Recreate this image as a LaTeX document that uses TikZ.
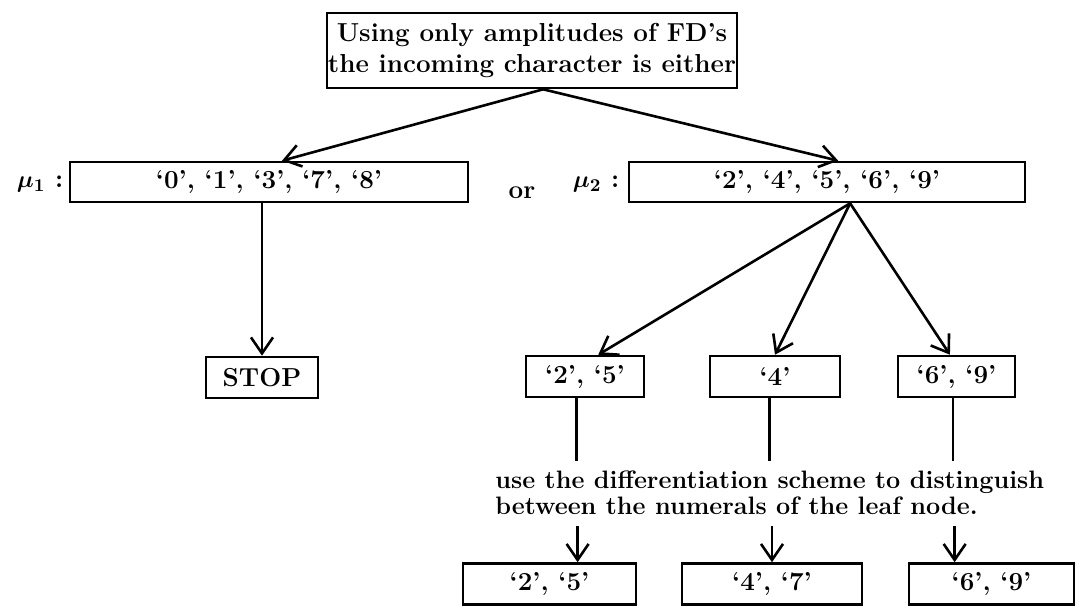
\documentclass[tikz,border=0pt]{standalone}
\usetikzlibrary{arrows.meta, calc}

\begin{document}
\begin{tikzpicture}[x=0.5pt, y=-0.5pt,
  box/.style={draw, line width=1.3pt, inner sep=0pt, align=center, font=\bfseries\fontsize{13}{15.5}\selectfont},
  label/.style={font=\bfseries\boldmath\fontsize{13}{15.5}\selectfont, inner sep=0pt},
  arrow/.style={-{Straight Barb[length=8pt, width=11pt, line width=1.3pt]}, line width=1.3pt},
  link/.style={line width=1.3pt}
]
  \useasboundingbox (0,0) rectangle (1079,606);

  % root and first split
  \node[box, minimum width=205pt, minimum height=37.5pt] (top) at (532,50.5)
    {Using only amplitudes of FD's\\the incoming character is either};
  \node[box, minimum width=199pt, minimum height=20pt] (mu1box) at (269,182)
    {`0', `1', `3', `7', `8'};
  \node[box, minimum width=198pt, minimum height=20pt] (mu2box) at (827,182)
    {`2', `4', `5', `6', `9'};
  \node[label, anchor=east] (mu1) at ($(mu1box.west)+(-5,2)$) {$\mu_1$ :};
  \node[label, anchor=east] (mu2) at ($(mu2box.west)+(-8,2)$) {$\mu_2$ :};
  \node[label] (or) at (522,193) {or};

  \coordinate (fork) at ($(top.south)!0.054!(top.south east)$);
  \draw[arrow] (fork) -- ($(mu1box.north)!0.065!(mu1box.north east)$);
  \draw[arrow] (fork) -- ($(mu2box.north)!0.056!(mu2box.north east)$);

  % left branch
  \node[box, minimum width=56pt, minimum height=20.5pt] (stop) at (262,377.5) {STOP};
  \draw[arrow] (mu1box.south -| stop.north) -- (stop.north);

  % right branch
  \node[box, minimum width=59pt, minimum height=20.5pt] (b25) at (585,376.5) {`2', `5'};
  \node[box, minimum width=65pt, minimum height=20.5pt] (b4) at (775,376.5) {`4'};
  \node[box, minimum width=58.5pt, minimum height=20.5pt] (b69) at (956.5,376.5) {`6', `9'};

  \coordinate (split) at ($(mu2box.south)!0.116!(mu2box.south east)$);
  \draw[arrow] (split) -- ($(b25.north)!0.22!(b25.north east)$);
  \draw[arrow] (split) -- (b4.north);
  \draw[arrow] (split) -- ($(b69.north)!0.11!(b69.north west)$);

  \draw[link] ($(b25.south)!0.14!(b25.south west)$) -- ++(0,63);
  \draw[link] ($(b4.south)!0.08!(b4.south west)$) -- ++(0,63);
  \draw[link] ($(b69.south)!0.06!(b69.south west)$) -- ++(0,63);

  \node[anchor=west, align=left, inner sep=0pt, font=\bfseries\fontsize{12.6}{12.8}\selectfont] (note) at (495,493)
    {use the differentiation scheme to distinguish\\between the numerals of the leaf node.};

  % leaf nodes
  \node[box, minimum width=86.5pt, minimum height=20.5pt] (l25) at (549.5,584) {`2', `5'};
  \node[box, minimum width=90pt, minimum height=20.5pt] (l47) at (772,584) {`4', `7'};
  \node[box, minimum width=82.5pt, minimum height=20.5pt] (l69) at (991.5,584) {`6', `9'};

  \draw[arrow] ($(l25.north)!0.32!(l25.north east)$) ++(0,-36) -- ++(0,36);
  \draw[arrow] (l47.north) ++(0,-36) -- ++(0,36);
  \draw[arrow] ($(l69.north)!0.44!(l69.north west)$) ++(0,-36) -- ++(0,36);
\end{tikzpicture}
\end{document}
